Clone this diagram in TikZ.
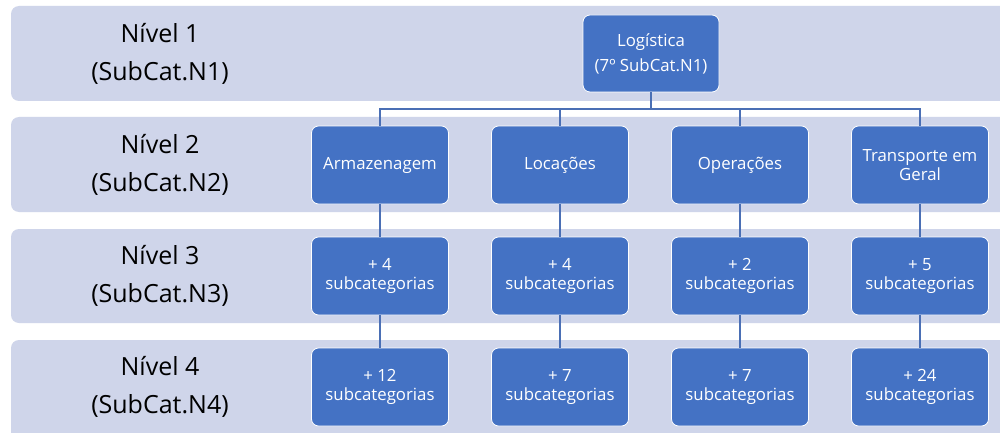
\documentclass[tikz,border=0pt]{standalone}
\usepackage{fontspec}
\setmainfont{Open Sans}
\definecolor{bandfill}{HTML}{CFD5EA}
\definecolor{boxfill}{HTML}{4472C4}
\definecolor{linecol}{HTML}{4A6FB5}
\begin{document}
\begin{tikzpicture}[x=1pt,y=-1pt,
  band/.style={fill=bandfill,draw=none,rounded corners=8pt},
  catbox/.style={rectangle,rounded corners=7pt,fill=boxfill,draw=white,line width=0.8pt,
    minimum width=137pt,minimum height=78pt,text=white,align=center,
    font=\fontsize{16.8}{19.5}\selectfont,inner sep=2pt},
  lvl/.style={align=center,font=\fontsize{25}{38}\selectfont,text=black},
  conn/.style={draw=linecol,line width=1.1pt}]
\useasboundingbox (0,0) rectangle (1000,433);
\fill[white] (0,0) rectangle (1000,433);
% bands
\path[band] (11,6) rectangle (1015,101);
\path[band] (11,117) rectangle (1015,212);
\path[band] (11,229) rectangle (1015,323);
\path[band] (11,340) rectangle (1015,445);
% level labels
\node[lvl] (l1) at (160,54) {Nível 1\\(SubCat.N1)};
\node[lvl] (l2) at (160,165) {Nível 2\\(SubCat.N2)};
\node[lvl] (l3) at (160,276) {Nível 3\\(SubCat.N3)};
\node[lvl] (l4) at (160,387) {Nível 4\\(SubCat.N4)};
% boxes
\node[catbox,minimum width=136pt,minimum height=77pt,font=\fontsize{16.8}{25}\selectfont] (root) at (651,53.5) {Logística\\(7º SubCat.N1)};
\node[catbox] (a2) at (380,165) {Armazenagem};
\node[catbox] (b2) at (560,165) {Locações};
\node[catbox] (c2) at (740,165) {Operações};
\node[catbox] (d2) at (920,165) {Transporte em\\Geral};
\node[catbox] (a3) at (380,276) {+ 4\\subcategorias};
\node[catbox] (b3) at (560,276) {+ 4\\subcategorias};
\node[catbox] (c3) at (740,276) {+ 2\\subcategorias};
\node[catbox] (d3) at (920,276) {+ 5\\subcategorias};
\node[catbox] (a4) at (380,387) {+ 12\\subcategorias};
\node[catbox] (b4) at (560,387) {+ 7\\subcategorias};
\node[catbox] (c4) at (740,387) {+ 7\\subcategorias};
\node[catbox] (d4) at (920,387) {+ 24\\subcategorias};
% connectors
\coordinate (hub) at (651,109);
\foreach \n in {a2,b2,c2,d2}{
  \draw[conn] (root.south) -- (hub) -| (\n.north);
}
\foreach \n in {a,b,c,d}{
  \draw[conn] (\n2.south) -- (\n3.north);
  \draw[conn] (\n3.south) -- (\n4.north);
}
\end{tikzpicture}
\end{document}
